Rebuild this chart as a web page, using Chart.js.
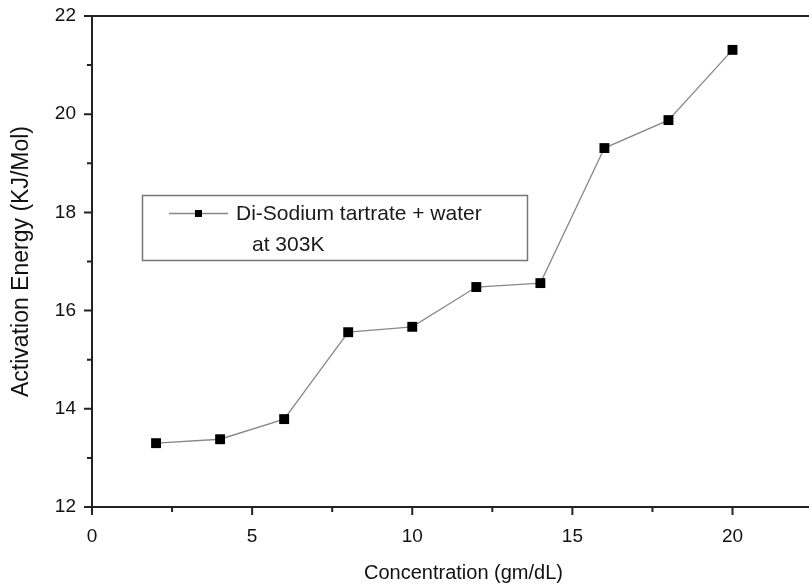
<!DOCTYPE html>
<html>
<head>
<meta charset="utf-8">
<title>Activation energy vs concentration</title>
<script src="https://cdn.jsdelivr.net/npm/chart.js@4.4.1/dist/chart.umd.min.js"></script>
<style>
    html, body { margin: 0; padding: 0; background: #fff; overflow: hidden; }
    #energyChart { display: block; }
</style>
</head>
<body>
<canvas id="energyChart" width="842" height="587"></canvas>
<script>
    // concentration (gm/dL) and activation energy (KJ/Mol)
    var concentration = [2, 4, 6, 8, 10, 12, 14, 16, 18, 20];
    var activationEnergy = [13.30, 13.38, 13.79, 15.56, 15.67, 16.48, 16.56, 19.31, 19.88, 21.31];

    var xTicks = [0, 5, 10, 15, 20];
    var xMinorTicks = [2.5, 7.5, 12.5, 17.5, 22.5];
    var yTicks = [12, 14, 16, 18, 20, 22];
    var yMinorTicks = [13, 15, 17, 19, 21];

    var legendLines = ['Di-Sodium tartrate + water', 'at 303K'];

    var fontFamily = '"Liberation Sans", Arial, sans-serif';
    var axisColor = '#222';

    // origin-style tick marks pointing outward, plus the top frame line
    var frameTicks = {
        id: 'frameTicks',
        afterDraw: function (chart) {
            var ctx = chart.ctx;
            var area = chart.chartArea;
            var x = chart.scales.x, y = chart.scales.y;
            ctx.save();
            ctx.strokeStyle = axisColor;
            ctx.lineWidth = 2;
            ctx.beginPath();
            ctx.moveTo(area.left - 1, area.top);
            ctx.lineTo(chart.width, area.top);
            xTicks.forEach(function (v) {
                var px = x.getPixelForValue(v);
                ctx.moveTo(px, area.bottom);
                ctx.lineTo(px, area.bottom + 8);
            });
            xMinorTicks.forEach(function (v) {
                var px = x.getPixelForValue(v);
                ctx.moveTo(px, area.bottom);
                ctx.lineTo(px, area.bottom + 5);
            });
            yTicks.forEach(function (v) {
                var py = y.getPixelForValue(v);
                ctx.moveTo(area.left, py);
                ctx.lineTo(area.left - 8, py);
            });
            yMinorTicks.forEach(function (v) {
                var py = y.getPixelForValue(v);
                ctx.moveTo(area.left, py);
                ctx.lineTo(area.left - 5, py);
            });
            ctx.stroke();
            ctx.restore();
        }
    };

    // boxed legend with the label split over two lines
    var boxLegend = {
        id: 'boxLegend',
        afterDraw: function (chart) {
            var ctx = chart.ctx;
            ctx.save();
            ctx.strokeStyle = '#777';
            ctx.lineWidth = 1.5;
            ctx.strokeRect(142.5, 195.5, 385, 65);

            ctx.strokeStyle = '#888';
            ctx.lineWidth = 1.3;
            ctx.beginPath();
            ctx.moveTo(169, 213.5);
            ctx.lineTo(228, 213.5);
            ctx.stroke();
            ctx.fillStyle = '#000';
            ctx.fillRect(195, 210, 7, 7);

            ctx.fillStyle = '#1a1a1a';
            ctx.font = '21px ' + fontFamily;
            ctx.textBaseline = 'middle';
            ctx.textAlign = 'left';
            ctx.fillText(legendLines[0], 236, 214);
            ctx.fillText(legendLines[1], 252, 245);
            ctx.restore();
        }
    };

    var ctx = document.getElementById('energyChart').getContext('2d');
    var energyChart = new Chart(ctx, {
        type: 'line',
        data: {
            datasets: [{
                label: legendLines.join(' '),
                data: concentration.map(function (c, i) {
                    return { x: c, y: activationEnergy[i] };
                }),
                borderColor: '#888',
                borderWidth: 1.3,
                pointStyle: 'rect',
                pointRadius: 7,
                pointBorderWidth: 0,
                pointBackgroundColor: '#000',
                tension: 0
            }]
        },
        options: {
            responsive: false,
            animation: false,
            layout: { padding: { top: 16, left: 0, right: 0, bottom: 0 } },
            plugins: {
                legend: { display: false },
                tooltip: { enabled: false }
            },
            scales: {
                x: {
                    type: 'linear',
                    min: 0,
                    max: 23.2,
                    grid: { display: false },
                    border: { display: true, color: axisColor, width: 2 },
                    afterBuildTicks: function (axis) {
                        axis.ticks = xTicks.map(function (v) { return { value: v }; });
                    },
                    afterFit: function (axis) {
                        axis.height = 80;
                        axis.paddingLeft = 0;
                        axis.paddingRight = 0;
                    },
                    ticks: {
                        padding: 10,
                        color: '#111',
                        font: { family: fontFamily, size: 19 }
                    },
                    title: {
                        display: true,
                        text: 'Concentration (gm/dL)',
                        color: '#111',
                        font: { family: fontFamily, size: 20 },
                        padding: { top: 0, bottom: 2 }
                    }
                },
                y: {
                    type: 'linear',
                    min: 12,
                    max: 22,
                    grid: { display: false },
                    border: { display: true, color: axisColor, width: 2 },
                    afterBuildTicks: function (axis) {
                        axis.ticks = yTicks.map(function (v) { return { value: v }; });
                    },
                    afterFit: function (axis) {
                        axis.width = 92;
                        axis.paddingTop = 0;
                        axis.paddingBottom = 0;
                    },
                    ticks: {
                        padding: 8,
                        color: '#111',
                        font: { family: fontFamily, size: 19 }
                    },
                    title: {
                        display: true,
                        text: 'Activation Energy (KJ/Mol)',
                        color: '#111',
                        font: { family: fontFamily, size: 23 },
                        padding: { top: 8, bottom: 0 }
                    }
                }
            }
        },
        plugins: [frameTicks, boxLegend]
    });
</script>
</body>
</html>
